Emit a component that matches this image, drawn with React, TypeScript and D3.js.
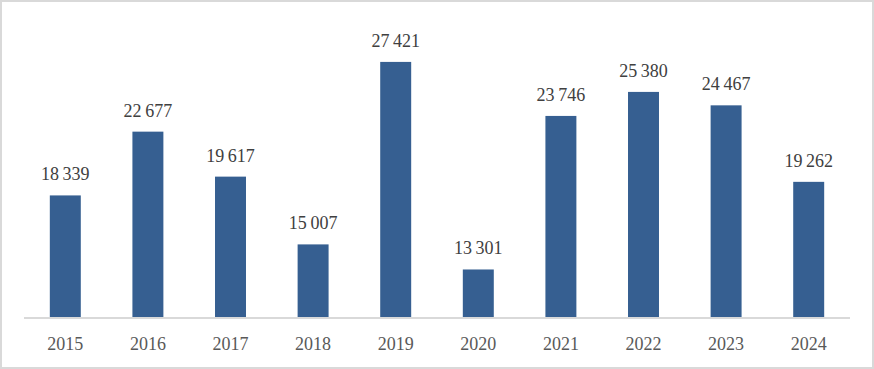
import React, { useEffect, useRef } from 'react';
import * as d3 from 'd3';

const years = ['2015', '2016', '2017', '2018', '2019', '2020', '2021', '2022', '2023', '2024'];
const values = [18339, 22677, 19617, 15007, 27421, 13301, 23746, 25380, 24467, 19262];
const yDomain = [10000, 30000];

const WIDTH = 874;
const HEIGHT = 369;
const FONT = "'Palatino Linotype', 'Book Antiqua', Palatino, 'Liberation Serif', serif";
const BAR_COLOR = '#365f91';

const fmt = d3.formatLocale({ decimal: ',', thousands: '\u2009', grouping: [3], currency: ['', ''] }).format(',d');

const App: React.FC = () => {
  const svgRef = useRef<SVGSVGElement>(null);

  useEffect(() => {
    document.body.style.margin = '0';
    if (!svgRef.current) return;

    const margin = { top: 24, right: 24, bottom: 51, left: 24 };
    const svg = d3.select(svgRef.current);
    svg.selectAll('*').remove();

    // Outer frame
    svg
      .append('rect')
      .attr('x', 1)
      .attr('y', 1)
      .attr('width', WIDTH - 2)
      .attr('height', HEIGHT - 2)
      .attr('fill', '#fff')
      .attr('stroke', '#d9d9d9')
      .attr('stroke-width', 2);

    const x = d3
      .scaleBand()
      .domain(years)
      .range([margin.left, WIDTH - margin.right])
      .paddingInner(0.625)
      .paddingOuter(0.3125);

    const y = d3
      .scaleLinear()
      .domain(yDomain)
      .range([HEIGHT - margin.bottom, margin.top]);

    const data = years.map((year, i) => ({ year, value: values[i] }));

    // Bars
    svg
      .selectAll('.bar')
      .data(data)
      .join('rect')
      .attr('class', 'bar')
      .attr('x', (d) => x(d.year)!)
      .attr('y', (d) => y(d.value))
      .attr('width', x.bandwidth())
      .attr('height', (d) => y(yDomain[0]) - y(d.value))
      .attr('fill', BAR_COLOR);

    // Value labels
    svg
      .selectAll('.value')
      .data(data)
      .join('text')
      .attr('class', 'value')
      .attr('x', (d) => x(d.year)! + x.bandwidth() / 2)
      .attr('y', (d) => y(d.value) - 15)
      .attr('text-anchor', 'middle')
      .attr('fill', '#404040')
      .attr('font-family', FONT)
      .attr('font-size', '18px')
      .text((d) => fmt(d.value));

    // X axis
    const baseY = y(yDomain[0]);
    svg
      .append('line')
      .attr('x1', margin.left)
      .attr('x2', WIDTH - margin.right)
      .attr('y1', baseY)
      .attr('y2', baseY)
      .attr('stroke', '#d9d9d9')
      .attr('stroke-width', 2);

    svg
      .selectAll('.tick-label')
      .data(years)
      .join('text')
      .attr('class', 'tick-label')
      .attr('x', (d) => x(d)! + x.bandwidth() / 2)
      .attr('y', baseY + 32)
      .attr('text-anchor', 'middle')
      .attr('fill', '#595959')
      .attr('font-family', FONT)
      .attr('font-size', '18px')
      .text((d) => d);
  }, []);

  return <svg ref={svgRef} width={WIDTH} height={HEIGHT} style={{ display: 'block' }} />;
};

export default App;
